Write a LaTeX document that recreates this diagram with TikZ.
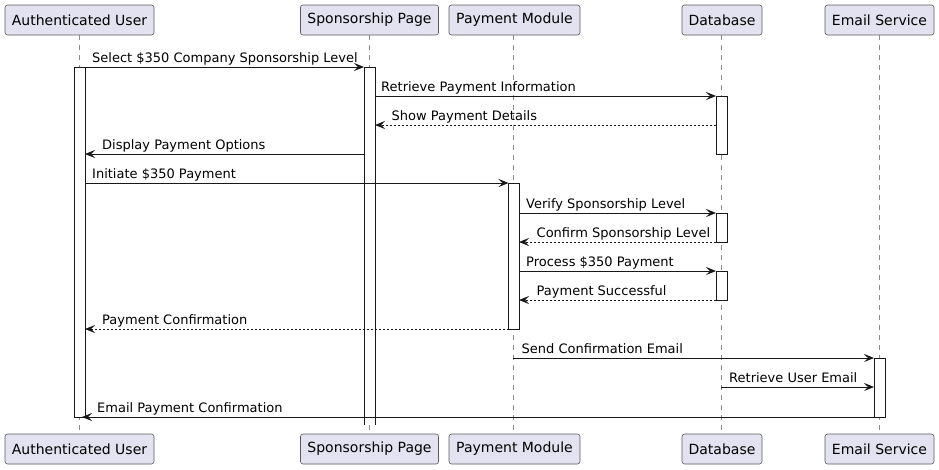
\documentclass[tikz,border=0pt]{standalone}
\usepackage{fontspec}
\setmainfont{DejaVu Sans}
\usetikzlibrary{arrows.meta}
\definecolor{pfill}{HTML}{E2E2F0}
\definecolor{pline}{HTML}{181818}
\definecolor{pborder}{HTML}{5A5A5A}
\begin{document}
\begin{tikzpicture}[x=1pt,y=-1pt,
 part/.style={draw=pborder, fill=pfill, line width=0.6pt, rounded corners=2.5pt, font=\fontsize{14}{16}\selectfont, inner sep=0pt, minimum height=30pt},
 life/.style={draw=pline!50, line width=0.5pt, dash pattern=on 5pt off 5pt},
 actbar/.style={draw=pline, fill=white, line width=0.9pt},
 msg/.style={draw=pline, line width=0.9pt, -{Stealth[length=10pt,width=8pt,inset=4pt]}},
 ret/.style={msg, dash pattern=on 2pt off 2pt},
 lbl/.style={font=\fontsize{13}{15}\selectfont, anchor=base west, inner sep=0pt}]
\useasboundingbox (0,0) rectangle (939,469);
% participants
\node[part, minimum width=149pt] (auT) at (79.5,20) {Authenticated User};
\node[part, minimum width=138pt] (spT) at (369.5,20) {Sponsorship Page};
\node[part, minimum width=131pt] (pmT) at (514.5,20) {Payment Module};
\node[part, minimum width=80pt] (dbT) at (722,20) {Database};
\node[part, minimum width=109pt] (esT) at (879.5,20) {Email Service};
\node[part, minimum width=149pt] (auB) at (79.5,449) {Authenticated User};
\node[part, minimum width=138pt] (spB) at (369.5,449) {Sponsorship Page};
\node[part, minimum width=131pt] (pmB) at (514.5,449) {Payment Module};
\node[part, minimum width=80pt] (dbB) at (722,449) {Database};
\node[part, minimum width=109pt] (esB) at (879.5,449) {Email Service};
% lifelines
\draw[life] (auT.south) -- (auB.north);
\draw[life] (spT.south) -- (spB.north);
\draw[life] ([xshift=-1.5pt]pmT.south) -- ([xshift=-1.5pt]pmB.north);
\draw[life] ([xshift=-1pt]dbT.south) -- ([xshift=-1pt]dbB.north);
\draw[life] ([xshift=-0.5pt]esT.south) -- ([xshift=-0.5pt]esB.north);
% activation bars
\draw[actbar] (74,67) rectangle (85,417);
\fill[white] (364,67) rectangle (375,425);
\draw[pline, line width=0.9pt] (364,425) -- (364,67) -- (375,67) -- (375,425);
\draw[actbar] (716,96) rectangle (727,154);
\draw[actbar] (508.5,183) rectangle (519,329);
\draw[actbar] (716,213) rectangle (727,242);
\draw[actbar] (716,271) rectangle (727,300);
\draw[actbar] (874,358) rectangle (885,417);
% message end points
\coordinate (a1) at (85,67);   \coordinate (b1) at (364,67);
\coordinate (a2) at (375,96);  \coordinate (b2) at (716,96);
\coordinate (a3) at (716,125); \coordinate (b3) at (375,125);
\coordinate (a4) at (364,154); \coordinate (b4) at (85,154);
\coordinate (a5) at (85,183);  \coordinate (b5) at (508.5,183);
\coordinate (a6) at (519,213); \coordinate (b6) at (716,213);
\coordinate (a7) at (716,242); \coordinate (b7) at (519,242);
\coordinate (a8) at (519,271); \coordinate (b8) at (716,271);
\coordinate (a9) at (716,300); \coordinate (b9) at (519,300);
\coordinate (a10) at (508.5,329); \coordinate (b10) at (85,329);
\coordinate (a11) at (513,358); \coordinate (b11) at (874,358);
\coordinate (a12) at (721,387); \coordinate (b12) at (874,387);
\coordinate (a13) at (874,417); \coordinate (b13) at (82,417);
% messages
\draw[msg] (a1) -- (b1);
\draw[msg] (a2) -- (b2);
\draw[ret] (a3) -- (b3);
\draw[msg] (a4) -- (b4);
\draw[msg] (a5) -- (b5);
\draw[msg] (a6) -- (b6);
\draw[ret] (a7) -- (b7);
\draw[msg] (a8) -- (b8);
\draw[ret] (a9) -- (b9);
\draw[ret] (a10) -- (b10);
\draw[msg] (a11) -- (b11);
\draw[msg] (a12) -- (b12);
\draw[msg] (a13) -- (b13);
% labels
\node[lbl] (l1) at (92,62) {Select \$350 Company Sponsorship Level};
\node[lbl] (l2) at (381,91) {Retrieve Payment Information};
\node[lbl] (l3) at (391.5,120) {Show Payment Details};
\node[lbl] (l4) at (102,149) {Display Payment Options};
\node[lbl] (l5) at (92,178) {Initiate \$350 Payment};
\node[lbl] (l6) at (526,208) {Verify Sponsorship Level};
\node[lbl] (l7) at (536.5,237) {Confirm Sponsorship Level};
\node[lbl] (l8) at (526,266) {Process \$350 Payment};
\node[lbl] (l9) at (536.5,295) {Payment Successful};
\node[lbl] (l10) at (102,324) {Payment Confirmation};
\node[lbl] (l11) at (521.5,353) {Send Confirmation Email};
\node[lbl] (l12) at (729,382) {Retrieve User Email};
\node[lbl] (l13) at (97,412) {Email Payment Confirmation};
\end{tikzpicture}
\end{document}
